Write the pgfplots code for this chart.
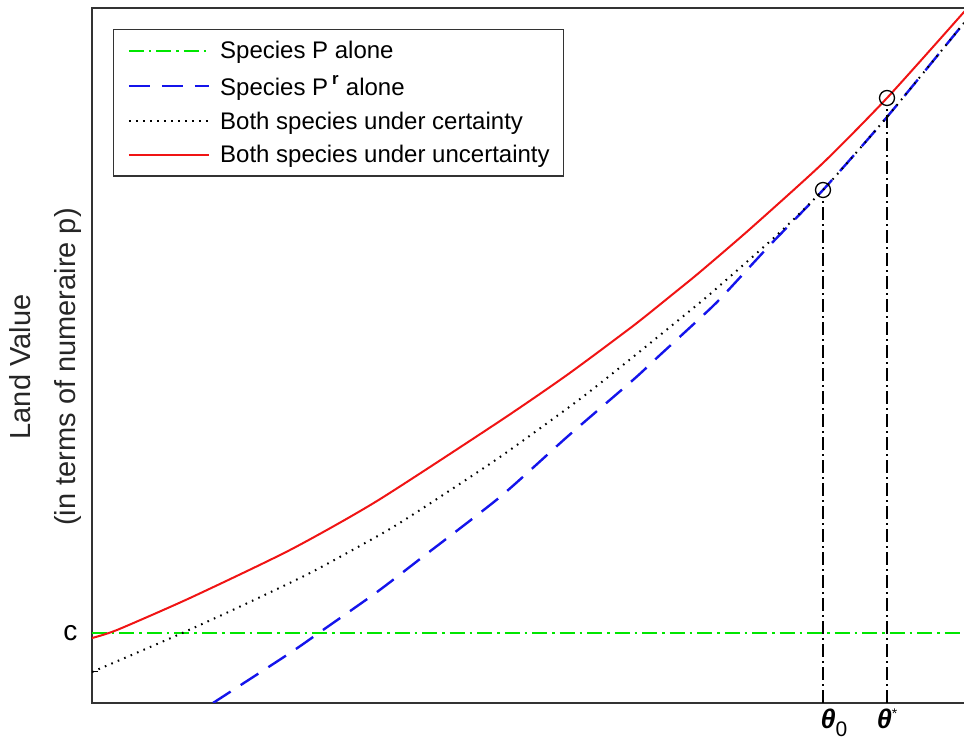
\documentclass[border=0pt]{standalone}
\usepackage{fontspec}
\setmainfont{Liberation Sans}
\usepackage{pgfplots}
\pgfplotsset{compat=1.18}
\newcommand{\thsym}{{\fontsize{27}{30}\selectfont\bfseries\itshape θ}}
\begin{document}
\begin{tikzpicture}
\begin{axis}[
  at={(0pt,0pt)}, anchor=south west,
  scale only axis, width=880pt, height=695pt,
  xmin=0, xmax=880, ymin=0, ymax=695,
  axis line style={draw=black!80, line width=1.6pt},
  xtick={731,795},
  xticklabels={{\hspace*{22pt}\thsym\raisebox{-8pt}{\fontsize{21}{24}\selectfont 0}}, {\thsym\raisebox{10pt}{\fontsize{14}{16}\selectfont *}}},
  ytick={31,70}, yticklabels={,c},
  xtick pos=bottom, ytick pos=left,
  tick style={black, line width=1pt}, major tick length=6pt,
  xticklabel style={font=\fontsize{27}{30}\selectfont, yshift=-2pt},
  yticklabel style={font=\fontsize{28}{32}\selectfont, xshift=-11pt},
  ylabel={Land Value\\(in terms of numeraire p)},
  ylabel style={at={(axis description cs:-0.0528,0.4835)}, anchor=center, align=center, font=\fontsize{29}{45}\selectfont, text=black!85},
  legend style={at={(axis description cs:0.02386,0.96978)}, anchor=north west,
    draw=black!80, line width=1.5pt, font=\fontsize{24}{28}\selectfont,
    inner xsep=14pt, inner ysep=11.5pt, row sep=15pt, column sep=10pt,
    nodes={inner sep=0pt}},
  legend cell align=left,
  legend image code/.code={\draw[#1] (0pt,0pt) -- (80pt,0pt);},
]
\addplot[color={rgb,255:red,0;green,230;blue,0}, line width=2pt, dash pattern=on 15pt off 5pt on 2.5pt off 5pt] coordinates {(0,70) (880,70)};
\addlegendentry{Species P alone}
\addplot[smooth, tension=0.4, color={rgb,255:red,20;green,20;blue,235}, line width=2.4pt, dash pattern=on 21pt off 12pt] coordinates {
(121,0) (198,50) (231,73) (285,111) (328,144) (408,206) (475,266) (541,323) (568,348) (605,382) (628,404) (678,458) (731,513) (795,586) (872,680) (880,690)};
\addlegendentry{Species P\,\raisebox{2pt}{\textsuperscript{\bfseries r}} alone}
\addplot[smooth, tension=0.4, black, line width=2pt, dash pattern=on 1.6pt off 5.4pt] coordinates {
(0,31) (35,46) (88,69) (145,95) (218,130) (291,170) (328,193) (408,246) (488,304) (541,346) (605,398) (625,415) (685,468) (731,513) (795,586) (872,680) (880,690)};
\addlegendentry{Both species under certainty}
\addplot[smooth, tension=0.4, color={rgb,255:red,240;green,20;blue,20}, line width=2pt] coordinates {
(0,65) (25,73) (98,105) (198,153) (285,202) (408,282) (475,328) (541,377) (581,409) (608,431) (658,474) (731,540) (795,605) (872,691) (880,701)};
\addlegendentry{Both species under uncertainty}
\addplot[black, line width=1.8pt, dash pattern=on 13pt off 4pt on 2pt off 4pt, forget plot] coordinates {(731,0) (731,505)};
\addplot[black, line width=1.8pt, dash pattern=on 13pt off 4pt on 2pt off 4pt, forget plot] coordinates {(795,0) (795,597)};
\addplot[only marks, mark=o, mark size=7.5pt, black, line width=1.3pt, forget plot] coordinates {(731,513) (795,605)};
\end{axis}
\pgfresetboundingbox
\useasboundingbox (-92pt,-46pt) rectangle (872pt,703pt);
\end{tikzpicture}
\end{document}
